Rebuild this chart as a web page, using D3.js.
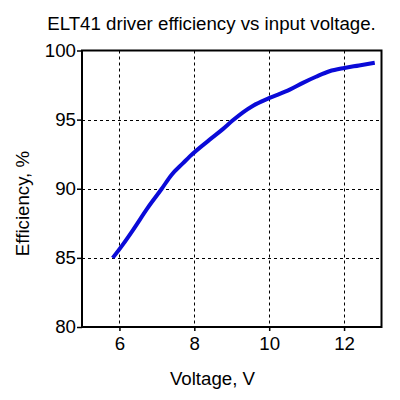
<!DOCTYPE html>
<html><head><meta charset="utf-8">
<script src="https://cdn.jsdelivr.net/npm/d3@7"></script>
<style>body{margin:0;background:#fff}svg{display:block}text{font-family:"Liberation Sans",Arial,sans-serif;fill:#000}</style>
</head><body><svg id="c" width="400" height="400"></svg>
<script>
const voltage = [5.82, 6.1, 6.37, 6.75, 7.13, 7.39, 7.7, 7.88, 8.41, 8.77, 9.03, 9.3, 9.57, 10.01, 10.55, 10.9, 11.25, 11.61, 12.01, 12.4, 12.82];
const efficiency = [85.0, 86.0, 87.05, 88.6, 90.0, 91.0, 91.85, 92.34, 93.55, 94.33, 94.95, 95.53, 96.01, 96.57, 97.17, 97.66, 98.1, 98.5, 98.74, 98.92, 99.12];
const xTicks = [6, 8, 10, 12];
const yTicks = [80, 85, 90, 95, 100];
const title = "ELT41 driver efficiency vs input voltage.";
const xLabel = "Voltage, V";
const yLabel = "Efficiency, %";

const svg = d3.select("#c");
const L = 82, R = 381.5, T = 50.5, B = 327;
const x = d3.scaleLinear().domain([5, 13]).range([L, R]);
const y = d3.scaleLinear().domain([80, 100]).range([B, T]);
const fs = "18.7px";

// grid
svg.append("g").selectAll("line").data(xTicks).join("line")
  .attr("x1", d => Math.round(x(d)) + 0.5).attr("x2", d => Math.round(x(d)) + 0.5)
  .attr("y1", T).attr("y2", B).attr("stroke", "#000").attr("stroke-width", 1).attr("stroke-dasharray", "3,3");
svg.append("g").selectAll("line").data(yTicks.slice(1, -1)).join("line")
  .attr("y1", d => Math.round(y(d)) + 0.5).attr("y2", d => Math.round(y(d)) + 0.5)
  .attr("x1", L).attr("x2", R).attr("stroke", "#000").attr("stroke-width", 1).attr("stroke-dasharray", "3,3");

// axes
const xa = svg.append("g").attr("transform", `translate(0,${B})`)
  .call(d3.axisBottom(x).tickValues(xTicks).tickSize(4).tickPadding(5).tickFormat(d3.format("d")));
const ya = svg.append("g").attr("transform", `translate(${L},0)`)
  .call(d3.axisLeft(y).tickValues(yTicks).tickSize(5).tickPadding(1).tickFormat(d3.format("d")));
[xa, ya].forEach(g => {
  g.select(".domain").remove();
  g.selectAll("line").attr("stroke", "#000").attr("stroke-width", 1.5);
  g.selectAll("text").style("font-size", fs).attr("fill", "#000");
});
xa.selectAll("text").attr("dy", null).attr("y", 22.5);

// frame
svg.append("rect").attr("x", L).attr("y", T).attr("width", R - L).attr("height", B - T)
  .attr("fill", "none").attr("stroke", "#000").attr("stroke-width", 2);

// line
const pts = voltage.map((v, i) => [v, efficiency[i]]);
svg.append("path").datum(pts)
  .attr("d", d3.line().x(d => x(d[0])).y(d => y(d[1])).curve(d3.curveMonotoneX))
  .attr("fill", "none").attr("stroke", "#0a0ad8").attr("stroke-width", 4).attr("stroke-linecap", "butt");

// labels
svg.append("text").attr("x", 211.5).attr("y", 29.5).attr("text-anchor", "middle").style("font-size", fs).text(title);
svg.append("text").attr("x", 212.5).attr("y", 385).attr("text-anchor", "middle").style("font-size", fs).text(xLabel);
svg.append("text").attr("transform", "translate(29,203.5) rotate(-90)").attr("text-anchor", "middle").style("font-size", fs).text(yLabel);
</script></body></html>
